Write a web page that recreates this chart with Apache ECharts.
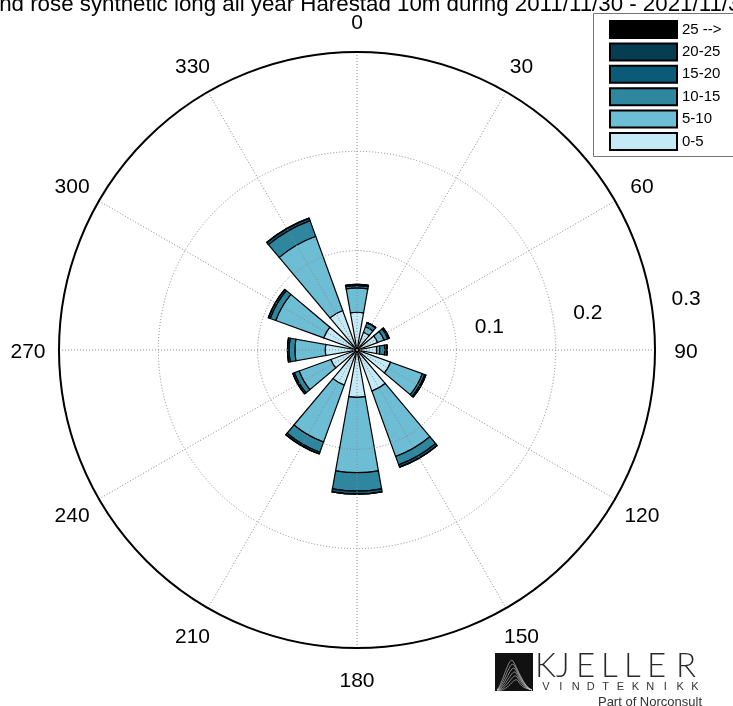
<!DOCTYPE html>
<html>
<head>
<meta charset="utf-8">
<script src="https://cdn.jsdelivr.net/npm/echarts@6/dist/echarts.min.js"></script>
<style>
  html, body { margin: 0; padding: 0; background: #ffffff; }
  #chart { width: 733px; height: 706px; }
</style>
</head>
<body>
<div id="chart"></div>
<script>
// Direction sectors (degrees, clockwise from north)
const sectors = ['0', '30', '60', '90', '120', '150', '180', '210', '240', '270', '300', '330'];
// Angle tick labels around the rim
const angleTickLabels = ['0', '30', '60', '90', '120', '150', '180', '210', '240', '270', '300', '330'];
// Radial ring values and their labels (frequency)
const radiusTickValues = [0.1, 0.2, 0.3];
const radiusTickLabels = ['0.1', '0.2', '0.3'];

// Wind speed classes (m/s)
const speedBins = ['0-5', '5-10', '10-15', '15-20', '20-25', '25 -->'];
const binColors = ['#c4eaf7', '#6dbdd5', '#2e879f', '#0a5a78', '#063d52', '#000000'];

// Frequency of each speed class per sector
const freq0to5   = [0.0380, 0.0190, 0.0220, 0.0200, 0.0360, 0.0440, 0.0477, 0.0376, 0.0280, 0.0320, 0.0357, 0.0423];
const freq5to10  = [0.0245, 0.0060, 0.0070, 0.0030, 0.0340, 0.0700, 0.0758, 0.0611, 0.0340, 0.0305, 0.0513, 0.0795];
const freq10to15 = [0.0023, 0.0040, 0.0040, 0.0050, 0.0025, 0.0090, 0.0185, 0.0108, 0.0050, 0.0058, 0.0060, 0.0168];
const freq15to20 = [0.0012, 0.0005, 0.0015, 0.0025, 0.0013, 0.0025, 0.0030, 0.0019, 0.0018, 0.0017, 0.0020, 0.0027];
const freq20to25 = [0, 0, 0, 0, 0, 0, 0, 0, 0, 0, 0, 0];
const freq25up   = [0, 0, 0, 0, 0, 0, 0, 0, 0, 0, 0, 0];

const binData = [freq0to5, freq5to10, freq10to15, freq15to20, freq20to25, freq25up];

const titleText = 'Wind rose synthetic long all year Harestad 10m during 2011/11/30 - 2021/11/30';

const FONT = 'Liberation Sans, Arial, sans-serif';
const CENTER = [357, 350];
const RADIUS = 298;
const LABEL_RADIUS = 329;
const RING_LABEL_BEARING = 82;

const chart = echarts.init(document.getElementById('chart'), null, { renderer: 'canvas' });

// Company logo drawn in the lower right corner
const logoCurves = [];
const peaks = [[511, 661], [512, 665], [513, 669], [514, 673], [515, 677], [516, 681]];
peaks.forEach(function (p, i) {
  logoCurves.push({
    type: 'bezierCurve',
    shape: {
      x1: 497, y1: 690,
      cpx1: p[0] - 8, cpy1: p[1] + 22 - i * 2,
      cpx2: p[0] - 2, cpy2: p[1] - 6,
      x2: p[0] + 2, y2: p[1]
    },
    style: { stroke: '#cfcfcf', lineWidth: 0.6, fill: null }
  });
  logoCurves.push({
    type: 'bezierCurve',
    shape: {
      x1: p[0] + 2, y1: p[1],
      cpx1: p[0] + 6, cpy1: p[1] + 6,
      cpx2: 524, cpy2: 688,
      x2: 532, y2: 690
    },
    style: { stroke: '#cfcfcf', lineWidth: 0.6, fill: null }
  });
});
const brandLetters = [['K', 535], ['J', 556], ['E', 576], ['L', 601], ['L', 624], ['E', 647], ['R', 676]].map(function (d) {
  return {
    type: 'text', x: d[1], y: 666,
    style: { text: d[0], fill: '#2a2a2a', font: '300 33px Lato, ' + FONT, align: 'left', verticalAlign: 'middle' }
  };
});
const subLetters = 'VINDTEKNIKK'.split('').map(function (ch, i) {
  return {
    type: 'text',
    x: 546 + i * 14.9,
    y: 687,
    style: { text: ch, fill: '#333', font: '11px ' + FONT, align: 'center', verticalAlign: 'middle' }
  };
});

const hiddenAxis = { axisLine: { show: false }, axisTick: { show: false }, axisLabel: { show: false }, splitLine: { show: false } };

const option = {
  animation: false,
  backgroundColor: '#ffffff',
  legend: {
    data: speedBins.slice().reverse(),
    orient: 'vertical',
    left: 593,
    top: 13,
    padding: [7, 10, 5, 16],
    itemWidth: 67,
    itemHeight: 17,
    itemGap: 3.4,
    icon: 'rect',
    z: 12,
    textStyle: { fontSize: 15, color: '#000', fontFamily: FONT },
    selectedMode: false
  },
  polar: [
    { center: CENTER, radius: RADIUS },
    { center: CENTER, radius: RADIUS },
    { center: CENTER, radius: LABEL_RADIUS }
  ],
  angleAxis: [
    Object.assign({ polarIndex: 0, type: 'category', data: sectors, startAngle: 105, clockwise: true }, hiddenAxis),
    {
      polarIndex: 1, type: 'value', min: 0, max: 360, interval: 30, startAngle: 90, clockwise: true, z: 5,
      axisLine: { show: true, lineStyle: { color: '#000', width: 2 } },
      axisTick: { show: false }, axisLabel: { show: false },
      splitLine: { show: true, lineStyle: { color: '#8a8a8a', width: 1, type: [1, 2] } }
    },
    Object.assign({ polarIndex: 2, type: 'value', min: 0, max: 360, startAngle: 90, clockwise: true }, hiddenAxis)
  ],
  radiusAxis: [
    Object.assign({ polarIndex: 0, type: 'value', min: 0, max: 0.3 }, hiddenAxis),
    {
      polarIndex: 1, type: 'value', min: 0, max: 0.3, interval: 0.1, z: 4,
      axisLine: { show: false }, axisTick: { show: false }, axisLabel: { show: false },
      splitLine: { show: true, lineStyle: { color: '#8a8a8a', width: 1, type: [1, 2] } }
    },
    Object.assign({ polarIndex: 2, type: 'value', min: 0, max: 1 }, hiddenAxis)
  ],
  series: speedBins.map(function (name, i) {
    return {
      type: 'bar',
      name: name,
      coordinateSystem: 'polar',
      polarIndex: 0,
      stack: 'rose',
      barWidth: '67%',
      z: 2,
      data: binData[i],
      itemStyle: { color: binColors[i], borderColor: '#000', borderWidth: 1.2 }
    };
  }).concat([{
    // ring value labels along one bearing
    type: 'scatter',
    name: 'rings',
    coordinateSystem: 'polar',
    polarIndex: 1,
    clip: false,
    silent: true,
    symbolSize: 0,
    itemStyle: { opacity: 1 },
    z: 6,
    data: radiusTickValues.map(function (v) { return [v, RING_LABEL_BEARING]; }),
    label: {
      show: true, position: 'inside', offset: [34, -9], fontSize: 21, color: '#000', fontFamily: FONT,
      formatter: function (p) { return radiusTickLabels[p.dataIndex]; }
    }
  }, {
    // compass labels centred around the rim
    type: 'scatter',
    name: 'directions',
    coordinateSystem: 'polar',
    polarIndex: 2,
    clip: false,
    silent: true,
    symbolSize: 0,
    itemStyle: { opacity: 1 },
    z: 6,
    data: angleTickLabels.map(function (l) { return [1, Number(l)]; }),
    label: {
      show: true, position: 'inside', offset: [0, 2], fontSize: 21, color: '#000', fontFamily: FONT,
      formatter: function (p) { return angleTickLabels[p.dataIndex]; }
    }
  }]),
  graphic: [
    {
      type: 'text', x: 363, y: 5, z: 10,
      style: { text: titleText, fill: '#000', font: '22.3px ' + FONT, align: 'center', verticalAlign: 'middle' }
    },
    {
      type: 'rect', z: 11,
      shape: { x: 593.5, y: 13.5, width: 200, height: 143 },
      style: { fill: '#ffffff', stroke: '#777777', lineWidth: 1 }
    },
    {
      type: 'group', z: 10,
      children: [
        { type: 'rect', shape: { x: 495, y: 653, width: 38, height: 38 }, style: { fill: '#111' } }
      ].concat(logoCurves).concat(brandLetters).concat([
        {
          type: 'text', x: 702, y: 702,
          style: { text: 'Part of Norconsult', fill: '#333', font: '13px ' + FONT, align: 'right', verticalAlign: 'middle' }
        }
      ]).concat(subLetters)
    }
  ]
};

chart.setOption(option);
</script>
</body>
</html>
